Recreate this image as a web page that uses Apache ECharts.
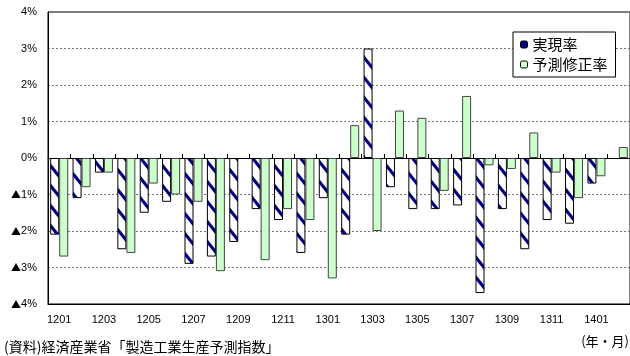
<!DOCTYPE html>
<html><head><meta charset="utf-8">
<script src="https://cdn.jsdelivr.net/npm/echarts@6/dist/echarts.min.js"></script>
<style>html,body{margin:0;padding:0;background:#fff}#c{width:630px;height:356px}</style>
</head><body><div id="c"></div>
<script>
const categories = ['1201','1202','1203','1204','1205','1206','1207','1208','1209','1210','1211','1212',
  '1301','1302','1303','1304','1305','1306','1307','1308','1309','1310','1311','1312','1401','1402'];
const realized = [-2.1,-1.1,-0.4,-2.5,-1.5,-1.2,-2.9,-2.7,-2.3,-1.4,-1.7,-2.6,
  -1.1,-2.1,3.0,-0.8,-1.4,-1.4,-1.3,-3.7,-1.4,-2.5,-1.7,-1.8,-0.7,null];
const revision = [-2.7,-0.8,-0.4,-2.6,-0.7,-1.0,-1.2,-3.1,null,-2.8,-1.4,-1.7,
  -3.3,0.9,-2.0,1.3,1.1,-0.9,1.7,-0.2,-0.3,0.7,-0.4,-1.1,-0.5,0.3];
const seriesNames = ['実現率','予測修正率'];
const yMin = -4, yMax = 4, yStep = 1;
const sourceNote = '(資料)経済産業省「製造工業生産予測指数」';
const unitNote = '(年・月)';

// stripe pattern for 実現率
function makePattern(){
  const W = 16, H = 20, c = document.createElement('canvas');
  c.width = W; c.height = H;
  const g = c.getContext('2d');
  g.fillStyle = '#ffffff'; g.fillRect(0,0,W,H);
  g.fillStyle = '#000080';
  for (let k = -1; k <= 1; k++) {
    const o = k*H;
    g.beginPath();
    g.moveTo(0, o); g.lineTo(W, o+H); g.lineTo(W, o+H+5); g.lineTo(0, o+5);
    g.closePath(); g.fill();
  }
  return c;
}

const chart = echarts.init(document.getElementById('c'));
const fontLatin = '"Liberation Sans", Arial, sans-serif';
const fontJP = '"Noto Sans CJK JP", sans-serif';
chart.setOption({
  animation: false,
  backgroundColor: '#ffffff',
  grid: { left: 48, top: 12, width: 585, height: 292, show: true, borderColor: '#000', borderWidth: 1 },
  legend: {
    left: 513, top: 32, orient: 'vertical',
    padding: [5, 8, 5, 7], itemGap: 5, itemWidth: 7, itemHeight: 7,
    backgroundColor: '#fff', borderColor: '#000', borderWidth: 1,
    textStyle: { fontFamily: fontJP, fontSize: 15, color: '#000' },
    data: [
      { name: seriesNames[0], itemStyle: { color: '#000080', borderColor: '#000', borderWidth: 1 } },
      { name: seriesNames[1], itemStyle: { color: '#ccffcc', borderColor: '#000', borderWidth: 1 } }
    ]
  },
  xAxis: [
    { type: 'category', data: categories, position: 'bottom',
      axisLine: { onZero: true, lineStyle: { color: '#000', width: 1 } },
      axisTick: { show: true, inside: true, length: 4, interval: 0, lineStyle: { color: '#000' } },
      axisLabel: { show: false }, splitLine: { show: false } },
    { type: 'category', data: categories, position: 'bottom',
      axisLine: { onZero: false, show: true, lineStyle: { color: '#000', width: 1 } },
      axisTick: { show: false },
      axisLabel: { show: true, interval: 1, margin: 10, fontFamily: fontLatin, fontSize: 11, color: '#000' },
      splitLine: { show: false } }
  ],
  yAxis: {
    type: 'value', min: yMin, max: yMax, interval: yStep,
    axisLine: { show: true, lineStyle: { color: '#000' } },
    axisTick: { show: false },
    axisLabel: { margin: 11, fontFamily: fontLatin, fontSize: 11, color: '#000',
      formatter: v => v < 0 ? '{t|▲}' + (-v) + '%' : v + '%',
      rich: { t: { fontFamily: fontJP, fontSize: 10, color: '#000' } } },
    splitLine: { show: true, lineStyle: { color: '#777', type: [2, 2], width: 1 } }
  },
  series: [
    { name: seriesNames[0], type: 'bar', xAxisIndex: 0, data: realized, barWidth: 9, barGap: '0%',
      itemStyle: { color: { image: makePattern(), repeat: 'repeat' }, borderColor: '#000', borderWidth: 1 } },
    { name: seriesNames[1], type: 'bar', xAxisIndex: 0, data: revision, barWidth: 9, barGap: '0%',
      itemStyle: { color: '#ccffcc', borderColor: '#444', borderWidth: 1 } }
  ],
  graphic: [
    { type: 'text', left: 4, top: 340, style: { text: sourceNote, font: '14px ' + fontJP, fill: '#000' } },
    { type: 'text', right: 1, top: 335, style: { text: unitNote, font: '13px ' + fontJP, fill: '#000' } }
  ]
});
</script></body></html>
